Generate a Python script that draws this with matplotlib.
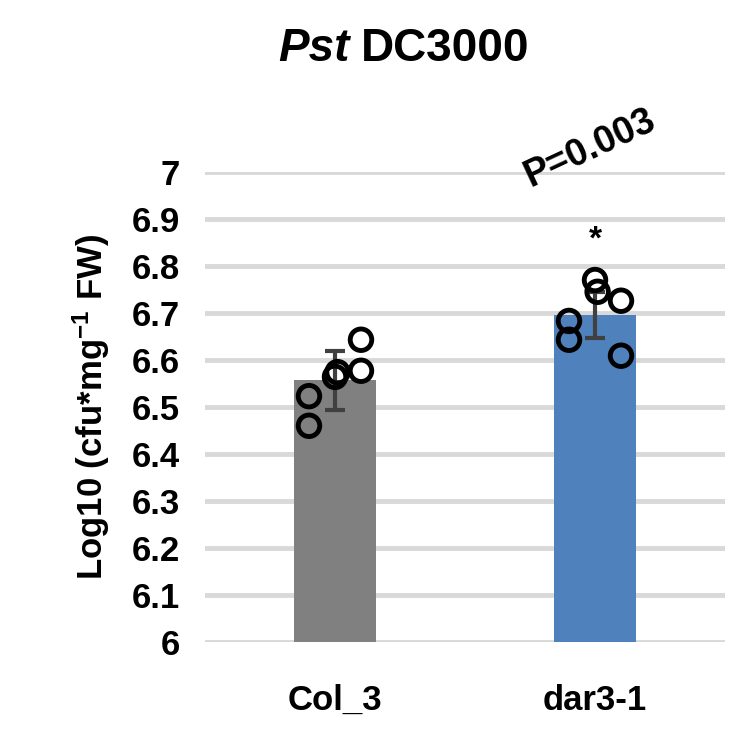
import matplotlib
matplotlib.use("Agg")
import matplotlib.pyplot as plt
import numpy as np

plt.rcParams["font.family"] = "Liberation Sans"
plt.rcParams["font.weight"] = "bold"
plt.rcParams["mathtext.fontset"] = "custom"
plt.rcParams["mathtext.rm"] = "Liberation Sans:bold"
plt.rcParams["mathtext.bf"] = "Liberation Sans:bold"
plt.rcParams["mathtext.it"] = "Liberation Sans:bold:italic"

categories = ["Col_3", "dar3-1"]
means = [6.557, 6.696]
errors = [0.063, 0.049]
points_col = [6.523, 6.460, 6.564, 6.574, 6.643, 6.577]
points_dar = [6.683, 6.643, 6.770, 6.745, 6.726, 6.609]
point_offsets = [-0.1, -0.1, 0.0, 0.01, 0.1, 0.1]
colors = ["#808080", "#4f81bd"]
yticks = [6.0, 6.1, 6.2, 6.3, 6.4, 6.5, 6.6, 6.7, 6.8, 6.9, 7.0]

fig = plt.figure(figsize=(7.44, 7.51), dpi=100)
ax = fig.add_axes([0.2755, 0.1451, 0.699, 0.626])
x = np.arange(len(categories))
ax.bar(x, means, width=0.315, color=colors, zorder=2)
ax.errorbar(x, means, yerr=errors, fmt="none", ecolor="#404040", elinewidth=3, capsize=7, capthick=3, zorder=3)
for xi, pts in zip(x, [points_col, points_dar]):
    ax.scatter(xi + np.array(point_offsets), pts, s=240, facecolors="none", edgecolors="black", linewidths=3.5, zorder=4)
ax.set_ylim(6, 7)
ax.set_xlim(-0.5, 1.5)
ax.set_yticks(yticks)
ax.set_yticklabels([f"{t:g}" for t in yticks], fontsize=25, fontweight="bold")
ax.set_xticks(x)
ax.set_xticklabels(categories, fontsize=25, fontweight="bold")
ax.tick_params(axis="y", length=0, pad=18)
ax.tick_params(axis="x", length=0, pad=30)
ax.yaxis.grid(True, color="#d9d9d9", linewidth=3.5, zorder=0)
ax.set_axisbelow(True)
for s in ax.spines.values():
    s.set_visible(False)
ax.set_ylabel(r"Log10 (cfu*mg$^{-1}$ FW)", fontsize=25, fontweight="bold", labelpad=14)
ax.text(1, 6.855, "*", ha="center", va="center", fontsize=24, fontweight="bold")
ax.text(0.98, 7.05, "P=0.003", ha="center", va="center", fontsize=27, fontweight="bold", rotation=25)
fig.text(0.47, 0.935, "Pst", ha="right", va="center", fontsize=33, fontweight="bold", style="italic")
fig.text(0.485, 0.935, "DC3000", ha="left", va="center", fontsize=33, fontweight="bold")
fig.savefig("out.png", dpi=100)
